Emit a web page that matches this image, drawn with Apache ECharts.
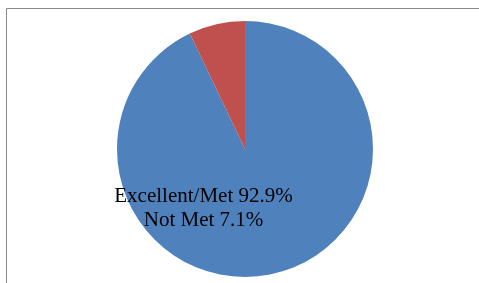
<!DOCTYPE html>
<html><head><meta charset="utf-8">
<script src="https://cdn.jsdelivr.net/npm/echarts@6/dist/echarts.min.js"></script>
<style>html,body{margin:0;padding:0;background:#fff}#c{width:479px;height:283px}</style>
</head><body><div id="c"></div>
<script>
const categories = ['Excellent/Met', 'Not Met'];
const values = [92.9, 7.1];
const colors = ['#4F81BD', '#C0504D'];

const chart = echarts.init(document.getElementById('c'), null, {renderer: 'canvas'});
const labelText = categories.map((c, i) => c + ' ' + values[i].toFixed(1) + '%').join('\n');
chart.setOption({
  animation: false,
  graphic: [
    {type: 'line', shape: {x1: 6.5, y1: 8.5, x2: 479, y2: 8.5}, style: {stroke: '#888', lineWidth: 1}},
    {type: 'line', shape: {x1: 6.5, y1: 8.5, x2: 6.5, y2: 283}, style: {stroke: '#888', lineWidth: 1}},
    {type: 'text', z: 100, style: {x: 203.5, y: 184, text: labelText, font: '21px "Liberation Serif", "Times New Roman", serif', fill: '#000', align: 'center', verticalAlign: 'top', lineHeight: 24}}
  ],
  series: [{
    type: 'pie',
    center: [245, 149],
    radius: 128,
    startAngle: 90,
    clockwise: true,
    label: {show: false},
    labelLine: {show: false},
    itemStyle: {borderWidth: 0},
    emphasis: {disabled: true},
    data: categories.map((c, i) => ({name: c, value: values[i], itemStyle: {color: colors[i]}}))
  }]
});
</script></body></html>
